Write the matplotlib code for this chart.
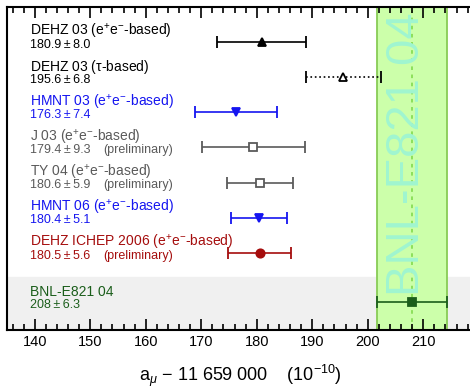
import matplotlib.pyplot as plt
import numpy as np
from matplotlib.ticker import MultipleLocator

plt.rcParams['font.family'] = ['Liberation Sans', 'DejaVu Sans']
plt.rcParams['mathtext.fontset'] = 'custom'
plt.rcParams['mathtext.rm'] = 'Liberation Sans'
plt.rcParams['mathtext.it'] = 'Liberation Sans:italic'

# measurements
names = ['DEHZ 03 (e$^{+}$e$^{-}$-based)', 'DEHZ 03 ($\\mathrm{\\tau}$-based)',
         'HMNT 03 (e$^{+}$e$^{-}$-based)', 'J 03 (e$^{+}$e$^{-}$-based)',
         'TY 04 (e$^{+}$e$^{-}$-based)', 'HMNT 06 (e$^{+}$e$^{-}$-based)',
         'DEHZ ICHEP 2006 (e$^{+}$e$^{-}$-based)', 'BNL-E821 04']
values = [180.9, 195.6, 176.3, 179.4, 180.6, 180.4, 180.5, 208.0]
errors = [8.0, 6.8, 7.4, 9.3, 5.9, 5.1, 5.6, 6.3]
vtext = ['180.9', '195.6', '176.3', '179.4', '180.6', '180.4', '180.5', '208']
etext = ['8.0', '6.8', '7.4', '9.3', '5.9', '5.1', '5.6', '6.3']
prelim = [False, False, False, True, True, False, True, False]
rows = [0, 1, 2, 3, 4, 5, 6, 7.4]

colors = ['black', 'black', '#1515f0', '#5a5a5a', '#5a5a5a', '#1515f0', '#a50d0d', '#1b5e1b']
markers = ['^', '^', 'v', 's', 's', 'v', 'o', 's']
filled = [True, False, True, False, False, True, True, True]
styles = ['-', ':', '-', '-', '-', '-', '-', '-']

exp_val, exp_err = 208.0, 6.3

fig = plt.figure(figsize=(4.7, 3.9), dpi=100)
ax = fig.add_axes([7/470, 60/390, 466.2/470, 323/390])
ax.set_xlim(135, 219)
ax.set_ylim(8.2, -1.0)

ax.axhspan(6.7, 8.2, color='#f0f0f0', zorder=0)
ax.axvspan(exp_val - exp_err, exp_val + exp_err, facecolor='#ccffaa',
           edgecolor='#88cc55', lw=1.3, zorder=1)
ax.axvline(exp_val, color='#88dd55', ls=(0, (2, 2.5)), lw=1.3, zorder=1)
ax.text(207.1, 3.2, 'BNL-E821 04', rotation=90, color='#a0f5d0', fontsize=34,
        ha='center', va='center', zorder=2)

for i in range(len(values)):
    c = colors[i]
    eb = ax.errorbar(values[i], rows[i], xerr=errors[i], fmt=markers[i], color=c,
                     mfc=c if filled[i] else 'white', mec=c, ms=6, mew=1.3,
                     lw=1.2, capsize=4, capthick=1.2, zorder=4)
    eb[2][0].set_linestyle(styles[i])
    if styles[i] == ':':
        for cap in eb[1]:
            cap.set_linestyle(':')
    ax.text(139.1, rows[i] - 0.29, names[i], color=c, fontsize=10,
            ha='left', va='center', zorder=5)
    ax.text(139.1, rows[i] + 0.08, vtext[i] + '\u2009\u00b1\u2009' + etext[i], color=c,
            fontsize=9, ha='left', va='center', zorder=5)
    if prelim[i]:
        ax.text(152.3, rows[i] + 0.08, '(preliminary)', color=c, fontsize=9,
                ha='left', va='center', zorder=5)

ax.xaxis.set_major_locator(MultipleLocator(10))
ax.xaxis.set_minor_locator(MultipleLocator(2))
ax.tick_params(axis='x', which='both', direction='in', top=True, bottom=True,
               labelsize=10.5, width=1.2)
ax.tick_params(axis='x', which='major', length=8)
ax.tick_params(axis='x', which='minor', length=4)
ax.set_yticks([])
for s in ax.spines.values():
    s.set_linewidth(1.5)
ax.set_xlabel('a$_{\\mu}$ $-$ 11 659 000    (10$^{-10}$)', fontsize=13, labelpad=10)

fig.savefig('out.png', dpi=100)
